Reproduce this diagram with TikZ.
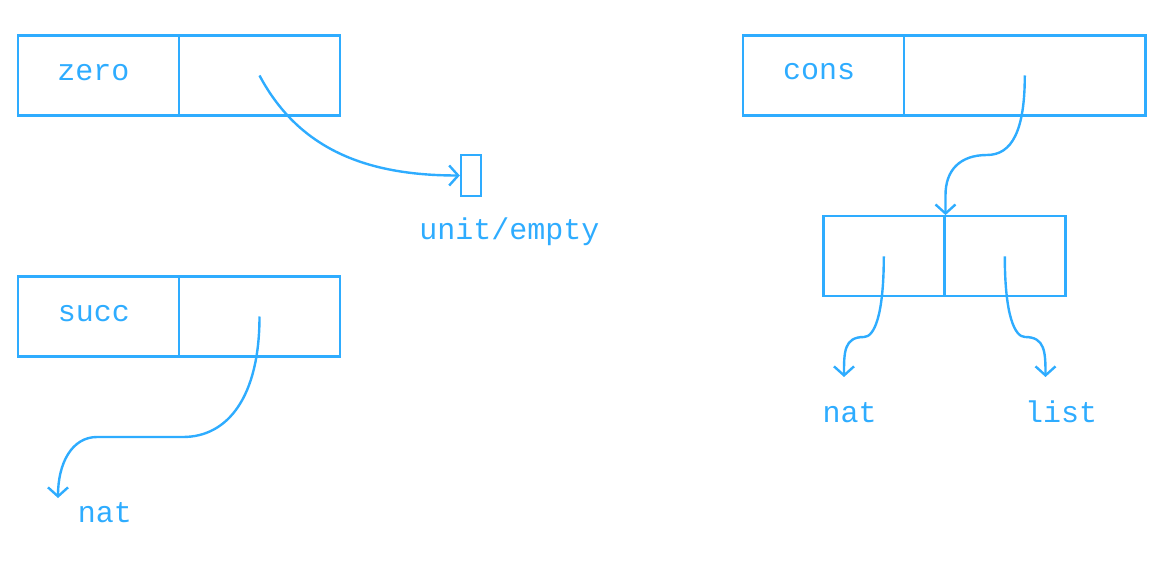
\documentclass[tikz,border=0pt]{standalone}
\usepackage{fontspec}
\setmonofont{Liberation Mono}
\usetikzlibrary{arrows.meta}
\definecolor{ptrblue}{RGB}{46,172,255}

\tikzset{
  cell/.style={draw=ptrblue, line width=2.4pt, minimum height=80pt, inner sep=0pt},
  lbl/.style={text=ptrblue, font=\ttfamily\fontsize{30}{34}\selectfont, anchor=base, inner sep=0pt},
  ptr/.style={draw=ptrblue, line width=2.4pt, -{Straight Barb[length=9pt,width=20pt]}},
}

\begin{document}
\begin{tikzpicture}[x=1pt,y=-1pt]
\useasboundingbox (0,0) rectangle (1168,561);

% zero box and its unit pointer
\node[cell, minimum width=161pt] (zerot) at (98.5,75.5) {};
\node[cell, minimum width=161pt] (zerov) at (259.5,75.5) {};
\node[lbl] (zerol) at (93.5,81) {zero};
\node[cell, minimum width=20pt, minimum height=41pt] (unit) at (471,175.5) {};
\node[lbl] (unitl) at (509.5,240) {unit/empty};
\draw[ptr] (zerov.center) to[out=-62,in=180] (unit.west);

% succ box
\node[cell, minimum width=161pt] (succt) at (98.5,316.5) {};
\node[cell, minimum width=161pt] (succv) at (259.5,316.5) {};
\node[lbl] (succl) at (94,322) {succ};
\node[lbl] (nata) at (105,522) {nat};
\coordinate (nataptr) at (58,498);
\draw[ptr] (succv.center) .. controls +(0,80) and +(45,0) .. (183,437) -- (97,437)
  .. controls +(-25,0) and +(0,-35) .. (nataptr);

% cons box and the pair it points to
\node[cell, minimum width=161pt] (const) at (823.5,75.5) {};
\node[cell, minimum width=241.5pt] (consv) at (1024.8,75.5) {};
\node[lbl] (consl) at (819,80) {cons};
\node[cell, minimum width=121pt] (pairl) at (883.8,256.3) {};
\node[cell, minimum width=121pt] (pairr) at (1004.8,256.3) {};
\draw[ptr] (consv.center) .. controls +(0,55) and +(25,0) .. (987,155)
  .. controls +(-27,0) and +(0,-25) .. ([yshift=20pt]pairl.north east) -- (pairl.north east);

% pair fields
\node[lbl] (natb) at (849.5,422) {nat};
\node[lbl] (listl) at (1061,422) {list};
\coordinate (natbptr) at (844,377);
\coordinate (listptr) at (1045.5,377);
\draw[ptr] (pairl.center) .. controls +(0,60) and +(10,0) .. (864,337)
  .. controls +(-20,0) and +(0,-25) .. (natbptr);
\draw[ptr] (pairr.center) .. controls +(0,60) and +(-10,0) .. (1025,337)
  .. controls +(20,0) and +(0,-25) .. (listptr);
\end{tikzpicture}
\end{document}
